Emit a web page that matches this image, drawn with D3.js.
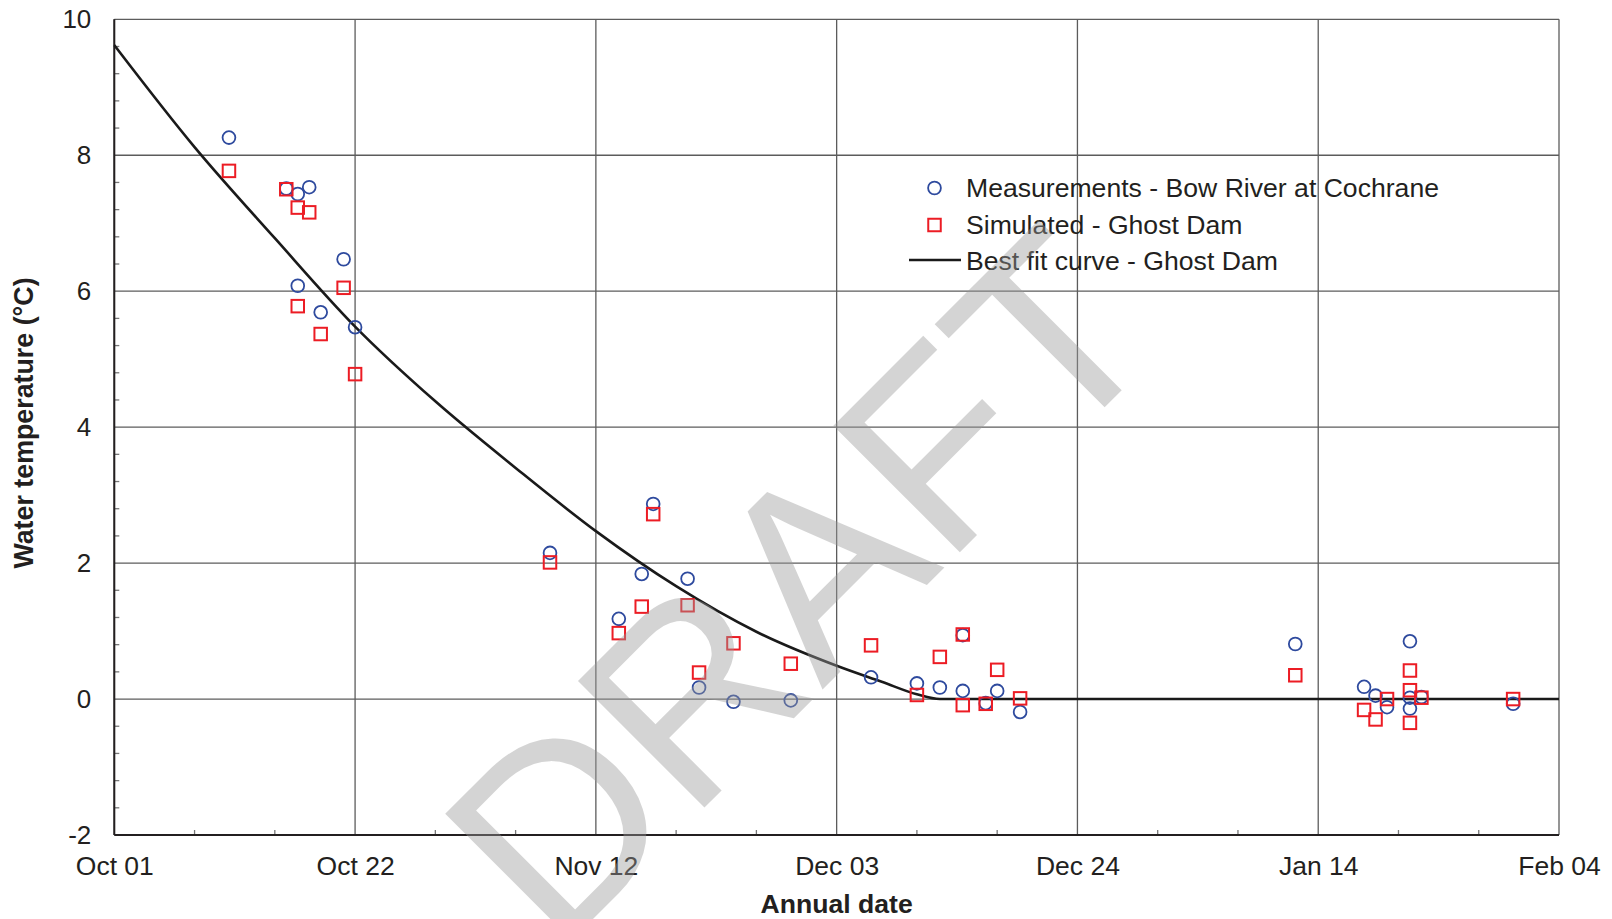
<!DOCTYPE html>
<html>
<head>
<meta charset="utf-8">
<script src="https://cdnjs.cloudflare.com/ajax/libs/d3/7.8.5/d3.min.js"></script>
<style>
body { margin: 0; background: #fff; }
text { font-family: "Liberation Sans", Arial, sans-serif; fill: #231f20; }
</style>
</head>
<body>
<div id="chart"></div>
<script>
var svgWidth = 1612;
var svgHeight = 919;

var margin = { top: 19.3, right: 53, bottom: 84, left: 114.3 };
var width = svgWidth - margin.left - margin.right;
var height = svgHeight - margin.top - margin.bottom;

// Measurements - Bow River at Cochrane
var measDates = ["2010-10-11", "2010-10-16", "2010-10-17", "2010-10-17", "2010-10-18", "2010-10-19", "2010-10-21", "2010-10-22",
    "2010-11-08", "2010-11-14", "2010-11-16", "2010-11-17", "2010-11-20", "2010-11-21", "2010-11-24", "2010-11-29",
    "2010-12-06", "2010-12-10", "2010-12-12", "2010-12-14", "2010-12-14", "2010-12-16", "2010-12-17", "2010-12-19",
    "2011-01-12", "2011-01-18", "2011-01-19", "2011-01-20", "2011-01-22", "2011-01-22", "2011-01-22", "2011-01-23", "2011-01-31"];
var measTemps = [8.26, 7.51, 7.43, 6.08, 7.53, 5.69, 6.47, 5.47,
    2.15, 1.18, 1.84, 2.87, 1.77, 0.17, -0.04, -0.02,
    0.32, 0.23, 0.17, 0.94, 0.12, -0.06, 0.12, -0.19,
    0.81, 0.18, 0.05, -0.12, 0.85, 0.02, -0.14, 0.03, -0.07];

// Simulated - Ghost Dam
var simDates = measDates;
var simTemps = [7.77, 7.50, 7.23, 5.78, 7.16, 5.37, 6.05, 4.78,
    2.01, 0.97, 1.36, 2.72, 1.38, 0.39, 0.82, 0.52,
    0.79, 0.06, 0.62, 0.95, -0.09, -0.07, 0.43, 0.01,
    0.35, -0.16, -0.30, 0.00, 0.42, 0.13, -0.35, 0.02, 0.00];

// Best fit curve - Ghost Dam
var fitDates = ["2010-10-01", "2010-10-08", "2010-10-15", "2010-10-22", "2010-10-29", "2010-11-05", "2010-11-12",
    "2010-11-19", "2010-11-26", "2010-12-03", "2010-12-07", "2010-12-10", "2010-12-12", "2011-02-04"];
var fitTemps = [9.62, 8.12, 6.78, 5.48, 4.38, 3.40, 2.47, 1.66, 0.99, 0.49, 0.25, 0.07, 0, 0];

var xTickDates = ["2010-10-01", "2010-10-22", "2010-11-12", "2010-12-03", "2010-12-24", "2011-01-14", "2011-02-04"];
var yTicks = [-2, 0, 2, 4, 6, 8, 10];

var legendLabels = ["Measurements - Bow River at Cochrane", "Simulated - Ghost Dam", "Best fit curve - Ghost Dam"];

var parseDate = d3.utcParse("%Y-%m-%d");
var measData = measDates.map((d, i) => ({ date: parseDate(d), temp: measTemps[i] }));
var simData = simDates.map((d, i) => ({ date: parseDate(d), temp: simTemps[i] }));
var fitData = fitDates.map((d, i) => ({ date: parseDate(d), temp: fitTemps[i] }));
var xTicks = xTickDates.map(parseDate);

var svg = d3.select("#chart")
    .append("svg")
    .attr("width", svgWidth)
    .attr("height", svgHeight);

var chartGroup = svg.append("g")
    .attr("transform", `translate(${margin.left}, ${margin.top})`);

var xScale = d3.scaleUtc()
    .domain([xTicks[0], xTicks[xTicks.length - 1]])
    .range([0, width]);

var yScale = d3.scaleLinear()
    .domain([-2, 10])
    .range([height, 0]);

// gridlines
chartGroup.append("g")
    .selectAll("line")
    .data(xTicks)
    .join("line")
    .attr("x1", d => xScale(d))
    .attr("x2", d => xScale(d))
    .attr("y1", 0)
    .attr("y2", height)
    .attr("stroke", "#5c5c5c")
    .attr("stroke-width", 1.3);

chartGroup.append("g")
    .selectAll("line")
    .data(yTicks)
    .join("line")
    .attr("x1", 0)
    .attr("x2", width)
    .attr("y1", d => yScale(d))
    .attr("y2", d => yScale(d))
    .attr("stroke", "#5c5c5c")
    .attr("stroke-width", 1.3);

// minor ticks, inside the plot
var minorX = d3.range(7, 126, 7).filter(n => n % 21 != 0).map(n => d3.utcDay.offset(xTicks[0], n));
chartGroup.append("g")
    .selectAll("line")
    .data(minorX)
    .join("line")
    .attr("x1", d => xScale(d))
    .attr("x2", d => xScale(d))
    .attr("y1", height)
    .attr("y2", height - 5)
    .attr("stroke", "#777")
    .attr("stroke-width", 1.3);

var minorY = d3.range(-2, 10, 0.4).filter(v => Math.abs(v / 2 - Math.round(v / 2)) > 0.01);
chartGroup.append("g")
    .selectAll("line")
    .data(minorY)
    .join("line")
    .attr("x1", 0)
    .attr("x2", 5)
    .attr("y1", d => yScale(d))
    .attr("y2", d => yScale(d))
    .attr("stroke", "#777")
    .attr("stroke-width", 1.3);

// axes (labels only)
var bottomAxis = d3.axisBottom(xScale)
    .tickValues(xTicks)
    .tickFormat(d3.utcFormat("%b %d"))
    .tickSize(0)
    .tickPadding(21);
var leftAxis = d3.axisLeft(yScale)
    .tickValues(yTicks)
    .tickFormat(d => String(d))
    .tickSize(0)
    .tickPadding(23);

chartGroup.append("g")
    .attr("transform", `translate(0, ${height})`)
    .call(bottomAxis)
    .call(g => g.select(".domain").remove())
    .selectAll("text")
    .attr("font-size", "26.5px")
    .attr("fill", "#231f20");

chartGroup.append("g")
    .call(leftAxis)
    .call(g => g.select(".domain").remove())
    .selectAll("text")
    .attr("font-size", "26px")
    .attr("fill", "#231f20");

chartGroup.selectAll(".tick text").attr("font-family", "'Liberation Sans', Arial, sans-serif");

// axis lines
chartGroup.append("line")
    .attr("x1", 0).attr("x2", 0)
    .attr("y1", 0).attr("y2", height)
    .attr("stroke", "#231f20")
    .attr("stroke-width", 2);
chartGroup.append("line")
    .attr("x1", 0).attr("x2", width)
    .attr("y1", height).attr("y2", height)
    .attr("stroke", "#231f20")
    .attr("stroke-width", 2);

// axis titles
svg.append("text")
    .attr("x", margin.left + width / 2)
    .attr("y", 912.5)
    .attr("text-anchor", "middle")
    .attr("font-size", "26.6px")
    .attr("font-weight", "bold")
    .text("Annual date");

svg.append("text")
    .attr("transform", "translate(33, 423) rotate(-90)")
    .attr("text-anchor", "middle")
    .attr("font-size", "26.8px")
    .attr("font-weight", "bold")
    .text("Water temperature (°C)");

// best fit curve
var line = d3.line()
    .x(d => xScale(d.date))
    .y(d => yScale(d.temp))
    .curve(d3.curveMonotoneX);

chartGroup.append("path")
    .datum(fitData)
    .attr("d", line)
    .attr("fill", "none")
    .attr("stroke", "#1a1a1a")
    .attr("stroke-width", 2.6);

// measurements
var rad = 6.4;
chartGroup.append("g")
    .selectAll("circle")
    .data(measData)
    .join("circle")
    .attr("cx", d => xScale(d.date))
    .attr("cy", d => yScale(d.temp))
    .attr("r", rad)
    .attr("fill", "none")
    .attr("stroke", "#2e4a9e")
    .attr("stroke-width", 1.8);

// simulated
var sq = 12.5;
chartGroup.append("g")
    .selectAll("rect")
    .data(simData)
    .join("rect")
    .attr("x", d => xScale(d.date) - sq / 2)
    .attr("y", d => yScale(d.temp) - sq / 2)
    .attr("width", sq)
    .attr("height", sq)
    .attr("fill", "none")
    .attr("stroke", "#ec1c24")
    .attr("stroke-width", 2);

// legend
var legend = svg.append("g");
var legendY = [188, 225, 261];
legend.append("circle")
    .attr("cx", 934.5).attr("cy", legendY[0])
    .attr("r", rad)
    .attr("fill", "none")
    .attr("stroke", "#2e4a9e")
    .attr("stroke-width", 1.8);
legend.append("rect")
    .attr("x", 934.5 - sq / 2).attr("y", legendY[1] - sq / 2)
    .attr("width", sq).attr("height", sq)
    .attr("fill", "none")
    .attr("stroke", "#ec1c24")
    .attr("stroke-width", 2);
legend.append("line")
    .attr("x1", 909).attr("x2", 961)
    .attr("y1", legendY[2] - 1).attr("y2", legendY[2] - 1)
    .attr("stroke", "#1a1a1a")
    .attr("stroke-width", 2.6);
legend.selectAll("text")
    .data(legendLabels)
    .join("text")
    .attr("x", 966)
    .attr("y", (d, i) => legendY[i])
    .attr("dy", "0.35em")
    .attr("font-size", "26.6px")
    .text(d => d);

// watermark
svg.append("text")
    .attr("transform", "translate(863, 649) rotate(-45)")
    .attr("text-anchor", "middle")
    .attr("font-size", "260px")
    .style("fill", "#9a9a9a")
    .attr("opacity", 0.42)
    .text("DRAFT");
</script>
</body>
</html>
